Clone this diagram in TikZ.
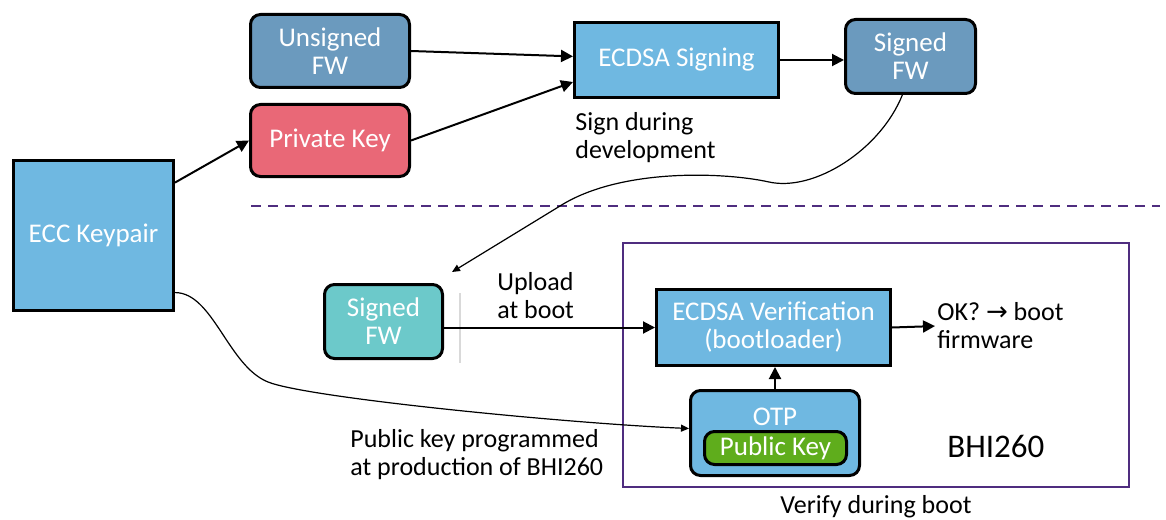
\documentclass[tikz,border=0pt]{standalone}
\usepackage{fontspec}
\setmainfont{Carlito}
\newfontfamily\arrowfont{DejaVu Sans}
\usepackage{tikz}
\usetikzlibrary{positioning}
\usetikzlibrary{arrows.meta}

\definecolor{celeste}{HTML}{6FB8E1}
\definecolor{acero}{HTML}{6B9ABE}
\definecolor{rojo}{HTML}{E96877}
\definecolor{turquesa}{HTML}{6CC9CA}
\definecolor{verde}{HTML}{5FAD1C}
\definecolor{morado}{HTML}{4F2D7F}

\begin{document}
\begin{tikzpicture}[x=0.5pt, y=-0.5pt,
		caja/.style={draw, line width=1.5pt, text=white, align=center, inner sep=0pt, font=\fontsize{13.5}{14}\selectfont},
		redonda/.style={caja, rounded corners=5pt},
		texto/.style={align=left, inner sep=0pt, font=\fontsize{13}{14}\selectfont},
		flecha/.style={-{Triangle[length=6pt,width=6pt]}, line width=1pt},
		fina/.style={-{Triangle[length=4pt,width=3.5pt]}, line width=0.6pt}]
			\useasboundingbox (0,0) rectangle (1166,519);
			
			\node[caja, fill=celeste, minimum width=80pt, minimum height=75pt] (ecc) at (93.5,235.5) {ECC Keypair};
			\node[redonda, fill=acero, minimum width=79.5pt, minimum height=36.5pt] (unsigned) at (330,51) {Unsigned\\FW};
			\node[redonda, fill=rojo, minimum width=79.5pt, minimum height=36pt] (priv) at (330,140.5) {Private Key};
			\node[caja, fill=celeste, minimum width=102pt, minimum height=37.5pt] (signing) at (676.5,60) {ECDSA Signing};
			\node[redonda, fill=acero, minimum width=65pt, minimum height=37pt] (signedtop) at (910.5,56.5) {Signed\\FW};
			\node[texto, anchor=west] (signlbl) at (575,138) {Sign during\\development};
			
			\draw[morado, dashed, line width=1.2pt, dash pattern=on 5pt off 3.5pt] (251,206) -- (1160,206);
			
			\node[draw=morado, line width=0.7pt, minimum width=253pt, minimum height=122pt] (bhi) at (876,365) {};
			\node[redonda, fill=turquesa, minimum width=59pt, minimum height=37pt] (signedbot) at (383.5,321.5) {Signed\\FW};
			\draw[gray!30, line width=1pt] (460,293) -- (460,363);
			\node[texto, anchor=west] (upload) at (497,296) {Upload\\at boot};
			\node[caja, fill=celeste, minimum width=117pt, minimum height=38pt] (verif) at (773.5,327.5) {ECDSA Verification\\(bootloader)};
			\node[texto, anchor=west] (okboot) at (937,326) {OK? {\arrowfont →} boot\\firmware};
			\node[redonda, fill=celeste, minimum width=84.5pt, minimum height=42.5pt] (otp) at (775,433) {};
			\node[text=white, inner sep=0pt, font=\fontsize{13.5}{14}\selectfont] (otplbl) at (775,417) {OTP};
			\node[redonda, fill=verde, minimum width=71pt, minimum height=16.5pt] (pubkey) at (775.5,448) {Public Key};
			\node[anchor=base west, inner sep=0pt, font=\fontsize{16.5}{18}\selectfont] (bhilbl) at (947,457) {BHI260};
			\node[texto, below=3.5pt of bhi] (verifylbl) {Verify during boot};
			\node[texto, anchor=west] (publbl) at (350,455) {Public key programmed\\at production of BHI260};
			\coordinate (fwin) at (452,272);
			
			\draw[flecha] (ecc.33) -- (priv.west);
			\draw[flecha] (unsigned.east) -- (signing.178);
			\draw[flecha] (priv.east) -- (signing.192);
			\draw[flecha] (signing.east) -- (signing.east -| signedtop.west);
			\draw[fina] (signedtop.-102) .. controls +(-22,55) and +(45,10) .. (769,182)
				.. controls +(-45,-10) and +(60,-38) .. (560,206) -- (fwin);          % bajada al dispositivo
			\draw[flecha] (signedbot.east |- verif.west) -- (verif.west);
			\draw[flecha, shorten >=1pt] (verif.east) -- (okboot.west);
			\draw[flecha] (otp.north) -- (otp.north |- verif.south);
			\draw[fina] (ecc.-35) .. controls +(38,0) and +(-40,-16) .. (268,382)
				.. controls +(40,16) and +(-120,-5) .. (otp.177);                   % clave publica a OTP
		\end{tikzpicture}
\end{document}
